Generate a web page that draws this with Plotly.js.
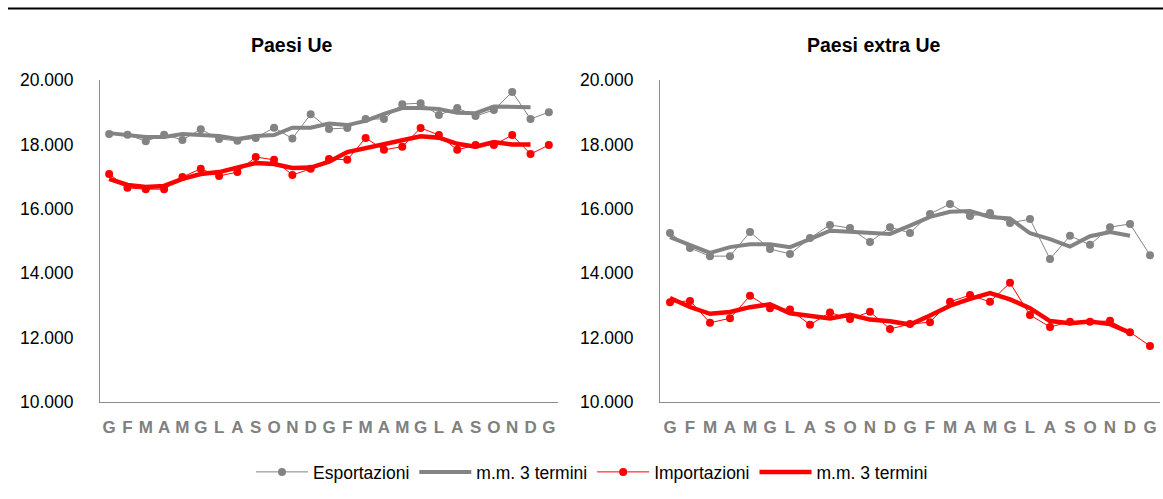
<!DOCTYPE html>
<html>
<head>
<meta charset="utf-8">
<script src="https://cdn.plot.ly/plotly-3.0.1.min.js"></script>
<style>html,body{margin:0;padding:0;background:#fff;}#chart{width:1163px;height:499px;}</style>
</head>
<body>
<div id="chart"></div>
<script>
// Month labels (Gennaio ... Gennaio, 25 months)
const months = ["G","F","M","A","M","G","L","A","S","O","N","D","G","F","M","A","M","G","L","A","S","O","N","D","G"];

// Paesi Ue
const ueExport   = [18320,18300,18100,18300,18140,18470,18170,18110,18200,18520,18180,18940,18480,18510,18790,18790,19250,19280,18910,19130,18880,19070,19630,18790,19000];
const ueExportMM = [18350,18290,18230,18230,18320,18290,18260,18170,18260,18290,18520,18520,18650,18600,18730,18950,19130,19130,19100,18980,18970,19180,19160,19150];
const ueImport   = [17080,16650,16610,16610,16990,17240,17020,17140,17610,17520,17050,17240,17550,17520,18200,17830,17930,18510,18290,17830,17980,17980,18290,17700,17980];
const ueImportMM = [16930,16740,16680,16710,16930,17080,17140,17270,17420,17390,17270,17280,17460,17760,17890,18020,18120,18250,18210,18020,17930,18075,17995,17995];

// Paesi extra Ue
const exExport   = [15250,14780,14530,14530,15280,14750,14600,15090,15500,15400,14970,15430,15250,15840,16150,15780,15870,15560,15680,14440,15160,14880,15430,15530,14560];
const exExportMM = [15120,14880,14630,14810,14900,14900,14810,15060,15320,15285,15260,15220,15480,15750,15910,15930,15745,15700,15240,15060,14825,15150,15280,15165];
const exImport   = [13100,13140,12460,12600,13300,12910,12870,12400,12780,12580,12800,12270,12420,12480,13110,13320,13110,13700,12700,12330,12490,12490,12520,12170,11740];
const exImportMM = [13230,12950,12740,12795,12945,13035,12755,12675,12595,12710,12560,12510,12405,12685,12990,13200,13380,13185,12915,12515,12445,12500,12420,12155];

const yTicks = [10000,12000,14000,16000,18000,20000];
const yTickText = ["10.000","12.000","14.000","16.000","18.000","20.000"];

const GREY = '#838383';
const RED = '#ff0000';
const idx = arr => arr.map((_, i) => i);

function group(xa, ya, exp, expMM, imp, impMM, show) {
  return [
    {x: idx(exp), y: exp, xaxis: xa, yaxis: ya, type: 'scatter', mode: 'lines+markers', name: 'Esportazioni',
     line: {color: GREY, width: 1}, marker: {color: GREY, size: 8}, showlegend: show, legendrank: 1},
    {x: idx(expMM), y: expMM, xaxis: xa, yaxis: ya, type: 'scatter', mode: 'lines', name: 'm.m. 3 termini',
     line: {color: GREY, width: 4}, showlegend: show, legendrank: 2},
    {x: idx(imp), y: imp, xaxis: xa, yaxis: ya, type: 'scatter', mode: 'lines+markers', name: 'Importazioni',
     line: {color: RED, width: 1}, marker: {color: RED, size: 8}, showlegend: show, legendrank: 3},
    {x: idx(impMM), y: impMM, xaxis: xa, yaxis: ya, type: 'scatter', mode: 'lines', name: 'm.m. 3 termini',
     line: {color: RED, width: 4.5}, showlegend: show, legendrank: 4}
  ];
}

const data = [].concat(
  group('x', 'y', ueExport, ueExportMM, ueImport, ueImportMM, true),
  group('x2', 'y2', exExport, exExportMM, exImport, exImportMM, false)
);

const FONT = 'Liberation Sans, Arial, sans-serif';
const W = 1163, H = 499;

function xAxis(domain, anchor) {
  return {
    domain: domain, anchor: anchor, range: [-0.5, 24.5],
    tickmode: 'array', tickvals: idx(months), ticktext: months,
    showgrid: false, zeroline: false, showline: true, linecolor: '#8c8c8c', linewidth: 1,
    ticks: '', ticklabelstandoff: 10, tickangle: 0,
    tickfont: {family: FONT, size: 17, color: '#808080', weight: 'bold'},
    fixedrange: true
  };
}
function yAxis(anchor) {
  return {
    domain: [1 - 402/H, 1 - 80/H], anchor: anchor, range: [10000, 20000],
    tickmode: 'array', tickvals: yTicks, ticktext: yTickText,
    showgrid: false, zeroline: false, showline: true, linecolor: '#8c8c8c', linewidth: 1,
    ticks: '', ticklabelstandoff: 22,
    tickfont: {family: FONT, size: 17.5, color: '#000'},
    fixedrange: true
  };
}

const layout = {
  width: W, height: H,
  margin: {l: 0, r: 0, t: 0, b: 0, pad: 0},
  paper_bgcolor: '#fff', plot_bgcolor: '#fff',
  font: {family: FONT},
  showlegend: true,
  legend: {
    orientation: 'h', x: 592/W, xanchor: 'center', y: 1 - 472/H, yanchor: 'middle',
    font: {family: FONT, size: 17.5, color: '#000'}, itemwidth: 52, traceorder: 'normal',
    bgcolor: 'rgba(0,0,0,0)'
  },
  xaxis: xAxis([100/W, 558/W], 'y'),
  yaxis: yAxis('x'),
  xaxis2: xAxis([660/W, 1160/W], 'y2'),
  yaxis2: yAxis('x2'),
  annotations: [
    {text: 'Paesi Ue', xref: 'paper', yref: 'paper', x: 291/W, y: 1 - 45/H, xanchor: 'center', yanchor: 'middle',
     showarrow: false, font: {family: FONT, size: 19.5, color: '#000', weight: 'bold'}},
    {text: 'Paesi extra Ue', xref: 'paper', yref: 'paper', x: 873/W, y: 1 - 45/H, xanchor: 'center', yanchor: 'middle',
     showarrow: false, font: {family: FONT, size: 19.5, color: '#000', weight: 'bold'}}
  ],
  shapes: [
    {type: 'line', xref: 'paper', yref: 'paper', x0: 8/W, x1: 1, y0: 1 - 8.5/H, y1: 1 - 8.5/H,
     line: {color: '#000', width: 2}}
  ]
};

Plotly.newPlot('chart', data, layout, {displayModeBar: false, staticPlot: true});
</script>
</body>
</html>
